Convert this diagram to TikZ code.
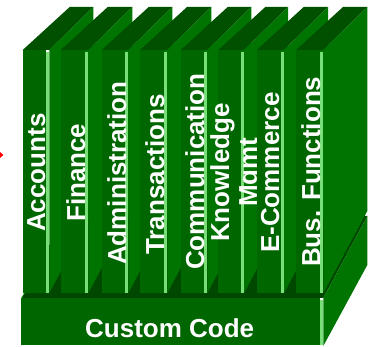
\documentclass[tikz,border=0pt]{standalone}
\usepackage{fontspec}
\setmainfont{Liberation Sans}
\definecolor{gfront}{RGB}{0,102,0}
\definecolor{gside}{RGB}{0,116,0}
\definecolor{gtop}{RGB}{0,80,0}
\definecolor{gdark}{RGB}{0,72,0}
\definecolor{gstrip}{RGB}{120,222,120}
\newcommand\drawslab[2]{%
  % #1 = front left x, #2 = strip left x
  \fill[gtop] (#1,50) -- (#2+3.3,50) -- (#2+47.3,7) -- (#1+47,7) -- cycle;
  \fill[gside] (#2+3.3,50) -- (#2+3.3,293) -- (#2+47.3,211) -- (#2+47.3,7) -- cycle;
  \fill[gfront] (#1,50) rectangle (#2,293);
  \fill[gstrip] (#2,52) rectangle (#2+3.3,293);
}
\tikzset{
  lbl/.style={text=white,font=\bfseries\fontsize{26}{26}\selectfont,inner sep=0,rotate=90,anchor=base west},
  basetxt/.style={text=white,font=\bfseries\fontsize{26}{26}\selectfont,inner sep=0,anchor=base west}
}
\begin{document}
\begin{tikzpicture}[x=1pt,y=-1pt]
\useasboundingbox (0,0) rectangle (372,347);
% red mark
\fill[red] (0,152) -- (3.5,155) -- (0,158) -- cycle;
% base
\fill[gdark] (21,298) -- (323.3,298) -- (367.3,216) -- (65,216) -- cycle;
\draw[gstrip!60!white, line width=0.8pt] (21,298) -- (24,293);
\fill[gfront] (21,298) rectangle (320,345);
\fill[gstrip] (320,300) rectangle (323.3,345);
\fill[gside] (323.3,298) -- (323.3,346) -- (367.3,265) -- (367.3,216) -- cycle;
% slabs
\drawslab{22.7}{46}
\node[lbl] (accounts) at (45,232) {Accounts};
\drawslab{60.7}{85}
\node[lbl] (finance) at (85,222) {Finance};
\drawslab{101.7}{125}
\node[lbl] (admin) at (126,265) {Administration};
\drawslab{140}{164}
\node[lbl] (trans) at (164,255) {Transactions};
\drawslab{180.7}{204}
\node[lbl] (comm) at (204,270) {Communication};
\drawslab{218.3}{240.7}
\node[lbl] (know) at (229,242) {Knowledge};
\node[lbl] (mgmt) at (257,207) {Mgmt};
\drawslab{256.7}{280.7}
\node[lbl] (ecom) at (279,253) {E-Commerce};
\drawslab{296}{320}
\node[lbl] (bus) at (320,267) {Bus. Functions};
% base label
\node[basetxt] (custom) at (85,337) {Custom Code};
\end{tikzpicture}
\end{document}
